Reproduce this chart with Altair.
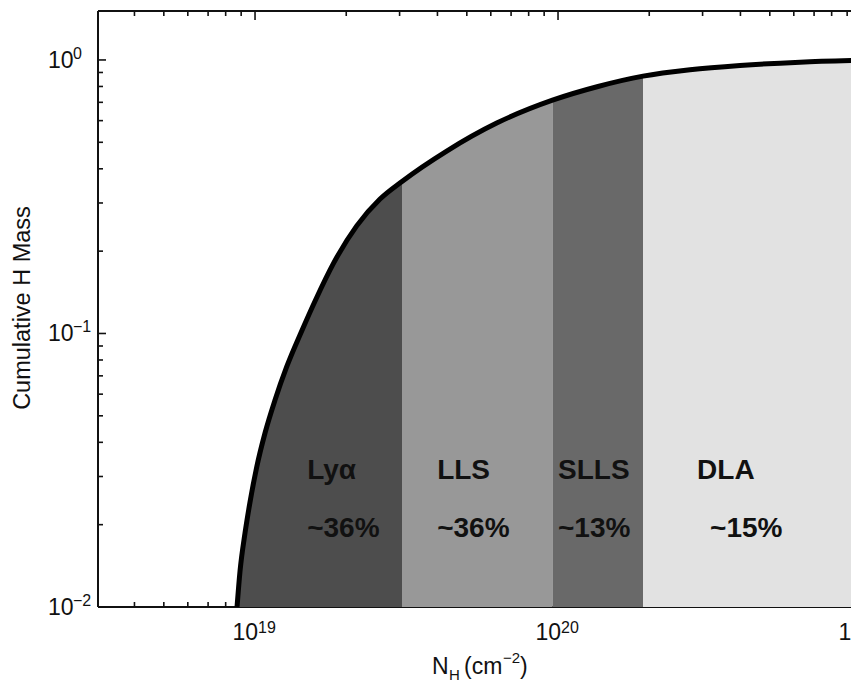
import altair as alt
import pandas as pd

# ---- data ----
log_nh = [18.9406, 18.9505, 18.9670, 18.9835, 19.0056, 19.0330, 19.0660, 19.1046,
          19.1541, 19.2013, 19.2584, 19.3356, 19.4125, 19.4851, 19.6327, 19.7977,
          19.9818, 20.1320, 20.2805, 20.4356, 20.6007, 20.7987, 20.9858]
cum_mass = [0.0100, 0.01353, 0.01865, 0.02420, 0.03250, 0.04327, 0.05712, 0.07558,
            0.1021, 0.1337, 0.1800, 0.2474, 0.3100, 0.3596, 0.4645, 0.5879,
            0.7129, 0.8000, 0.8725, 0.9208, 0.9548, 0.9817, 0.9958]

regions = ["Lyα", "LLS", "SLLS", "DLA"]
region_edges = [18.9406, 19.4851, 19.9818, 20.2805, 20.9858]   # log10 N_H
region_pcts = ["~36%", "~36%", "~13%", "~15%"]
region_colors = ["#4d4d4d", "#989898", "#696969", "#e2e2e2"]
name_log_x = [19.172, 19.601, 20.000, 20.459]
pct_log_x = [19.172, 19.601, 20.000, 20.502]
name_y = 0.0294
pct_y = 0.0180

x_tick_vals = [1e19, 1e20, 1e21]
x_tick_exps = ["19", "20", "21"]
y_tick_vals = [1.0, 0.1, 0.01]
y_tick_exps = ["0", "−1", "−2"]

W, H = 753, 596
X_DOMAIN = [3.032e18, 10 ** (18.4818 + W / 303.0)]
Y_DOMAIN = [0.01, 1.51]
FONT = "Liberation Sans"

xs = alt.Scale(type="log", domain=X_DOMAIN, nice=False)
ys = alt.Scale(type="log", domain=Y_DOMAIN, nice=False)

curve = pd.DataFrame({"N": [10 ** v for v in log_nh], "frac": cum_mass})

rows = []
for i, r in enumerate(regions):
    lo, hi = region_edges[i], region_edges[i + 1]
    for lv, f in zip(log_nh, cum_mass):
        if lo - 1e-9 <= lv <= hi + 1e-9:
            rows.append({"N": 10 ** lv, "frac": f, "base": Y_DOMAIN[0], "region": r})
areas_df = pd.DataFrame(rows)

# tick positions
x_major = [v for v in [1e19, 1e20] if X_DOMAIN[0] <= v <= X_DOMAIN[1]]
x_minor = [k * 10 ** e for e in (18, 19, 20) for k in range(2, 10)]
x_minor = [v for v in x_minor if X_DOMAIN[0] < v <= X_DOMAIN[1]]
y_major = [1.0, 0.1, 0.01]
y_minor = [k * 10 ** e for e in (-2, -1) for k in range(2, 10)]


def xrules(vals, y0, y1):
    return alt.Chart(pd.DataFrame({"v": vals})).mark_rule(color="#111", strokeWidth=1.6).encode(
        x=alt.X("v:Q", scale=xs, axis=None), y=alt.value(y0), y2=alt.value(y1))


def yrules(vals, x0, x1):
    return alt.Chart(pd.DataFrame({"v": vals})).mark_rule(color="#111", strokeWidth=1.6).encode(
        y=alt.Y("v:Q", scale=ys, axis=None), x=alt.value(x0), x2=alt.value(x1))


one = pd.DataFrame({"a": [0]})

bottom_line = alt.Chart(one).mark_rule(color="#111", strokeWidth=2).encode(
    x=alt.value(0), x2=alt.value(W), y=alt.value(H))
top_line = alt.Chart(one).mark_rule(color="#111", strokeWidth=2).encode(
    x=alt.value(0), x2=alt.value(W), y=alt.value(0))
left_line = alt.Chart(one).mark_rule(color="#111", strokeWidth=2).encode(
    x=alt.value(0), y=alt.value(0), y2=alt.value(H))

areas = alt.Chart(areas_df).mark_area(interpolate="monotone", clip=True, opacity=1).encode(
    x=alt.X("N:Q", scale=xs, axis=None),
    y=alt.Y("frac:Q", scale=ys, axis=None),
    y2=alt.Y2("base:Q"),
    color=alt.Color("region:N", scale=alt.Scale(domain=regions, range=region_colors), legend=None),
    detail="region:N",
)

line = alt.Chart(curve).mark_line(color="black", strokeWidth=5, interpolate="monotone",
                                   clip=True).encode(
    x=alt.X("N:Q", scale=xs, axis=None),
    y=alt.Y("frac:Q", scale=ys, axis=None),
)

xlab_df = pd.DataFrame({"v": x_tick_vals, "e": x_tick_exps})
xlab_base = alt.Chart(xlab_df).mark_text(font=FONT, fontSize=23, align="right", baseline="alphabetic",
                                         dx=3, color="#111").encode(
    x=alt.X("v:Q", scale=xs, axis=None), y=alt.value(H + 33), text=alt.value("10"))
xlab_exp = alt.Chart(xlab_df).mark_text(font=FONT, fontSize=16, align="left", baseline="alphabetic",
                                        dx=3, color="#111").encode(
    x=alt.X("v:Q", scale=xs, axis=None), y=alt.value(H + 26), text="e:N")

ylab_df = pd.DataFrame({"v": y_tick_vals, "e": y_tick_exps})
ylab_base = alt.Chart(ylab_df).mark_text(font=FONT, fontSize=23, align="left", baseline="alphabetic",
                                         dy=8, color="#111").encode(
    y=alt.Y("v:Q", scale=ys, axis=None), x=alt.value(-50), text=alt.value("10"))
ylab_exp = alt.Chart(ylab_df).mark_text(font=FONT, fontSize=16, align="left", baseline="alphabetic",
                                        dy=-1, color="#111").encode(
    y=alt.Y("v:Q", scale=ys, axis=None), x=alt.value(-25), text="e:N")

names_df = pd.DataFrame({"N": [10 ** v for v in name_log_x], "y": [name_y] * 4, "t": regions})
pcts_df = pd.DataFrame({"N": [10 ** v for v in pct_log_x], "y": [pct_y] * 4, "t": region_pcts})
names = alt.Chart(names_df).mark_text(font=FONT, fontSize=28, fontWeight="bold", align="left",
                                      baseline="alphabetic", color="#111").encode(
    x=alt.X("N:Q", scale=xs, axis=None), y=alt.Y("y:Q", scale=ys, axis=None), text="t:N")
pcts = alt.Chart(pcts_df).mark_text(font=FONT, fontSize=28, fontWeight="bold", align="left",
                                    baseline="alphabetic", color="#111").encode(
    x=alt.X("N:Q", scale=xs, axis=None), y=alt.Y("y:Q", scale=ys, axis=None), text="t:N")

# axis titles
ytitle = alt.Chart(one).mark_text(font=FONT, fontSize=23.5, angle=270, align="center",
                                  baseline="middle", color="#111").encode(
    x=alt.value(-75), y=alt.value(297), text=alt.value("Cumulative H Mass"))


def tpiece(txt, x, y, size):
    return alt.Chart(one).mark_text(font=FONT, fontSize=size, align="left", baseline="alphabetic",
                                    color="#111").encode(
        x=alt.value(x), y=alt.value(y), text=alt.value(txt))


xtitle = (tpiece("N", 334, H + 67, 23) + tpiece("H", 351, H + 73, 15)
          + tpiece("(cm", 366, H + 67, 23) + tpiece("−2", 405, H + 56, 15)
          + tpiece(")", 422, H + 67, 23))

chart = alt.layer(
    bottom_line,
    xrules(x_major, H, H - 9), xrules(x_minor, H, H - 5),
    areas, line,
    yrules(y_major, 0, 8), yrules(y_minor, 0, 5),
    xrules(x_major, 0, 9), xrules(x_minor, 0, 5),
    left_line, top_line,
    xlab_base, xlab_exp, ylab_base, ylab_exp,
    names, pcts, ytitle, xtitle,
).properties(
    width=W, height=H,
    padding={"left": 90, "top": 3, "right": 0, "bottom": 77},
    autosize=alt.AutoSizeParams(type="none"),
    background="white",
).configure_view(stroke=None)

chart.save("out.html", embed_options={"renderer": "svg", "actions": False})
